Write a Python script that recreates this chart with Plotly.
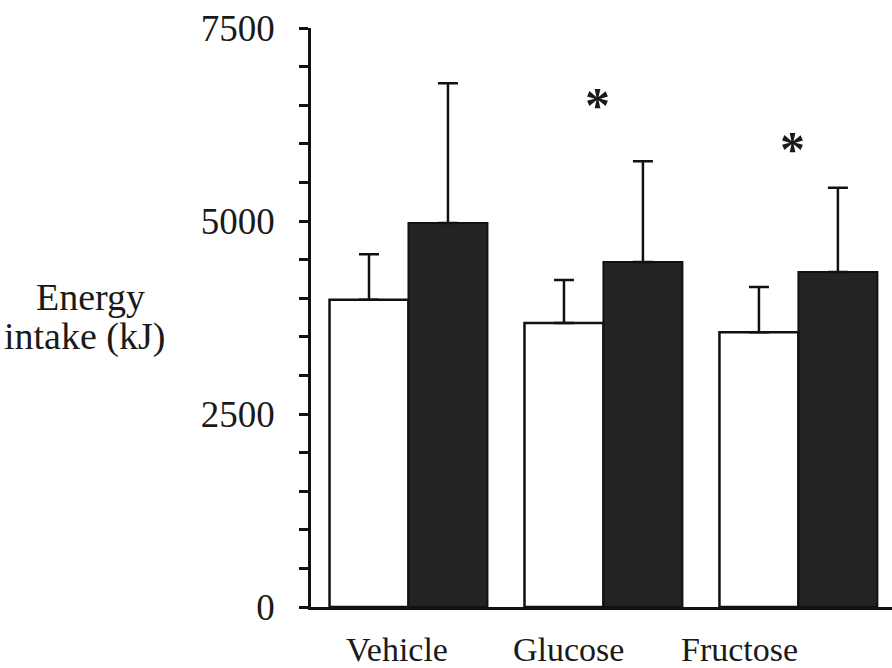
import plotly.graph_objects as go

# Energy intake per treatment (kJ): mean and upper SEM
categories = ["Vehicle", "Glucose", "Fructose"]
open_means = [3980, 3680, 3560]
open_sem = [590, 555, 585]
filled_means = [4975, 4470, 4340]
filled_sem = [1810, 1305, 1090]
significant = [False, True, True]

y_tick_vals = [0, 2500, 5000, 7500]
y_tick_text = ["0", "2500", "5000", "7500"]

FONT = "Liberation Serif"
x_pos = list(range(len(categories)))

fig = go.Figure()
fig.add_trace(go.Bar(
    x=x_pos, y=open_means,
    marker=dict(color="white", line=dict(color="#111111", width=2.5)),
    error_y=dict(type="data", symmetric=False, array=open_sem,
                 arrayminus=[0] * len(open_sem), color="#111111",
                 thickness=2.5, width=10),
    showlegend=False,
))
fig.add_trace(go.Bar(
    x=x_pos, y=filled_means,
    marker=dict(color="#232323", line=dict(color="#111111", width=2)),
    error_y=dict(type="data", symmetric=False, array=filled_sem,
                 arrayminus=[0] * len(filled_sem), color="#111111",
                 thickness=2.5, width=10),
    showlegend=False,
))

annotations = []
# category labels sit on a slightly tighter pitch than the bar groups
label_start, label_pitch = -0.06, 0.88
for i, name in enumerate(categories):
    annotations.append(dict(
        x=label_start + label_pitch * i, y=0, xref="x", yref="y",
        text=name, showarrow=False, xanchor="center", yanchor="top",
        yshift=-22, font=dict(family=FONT, size=34, color="#1a1a1a"),
    ))

# significance markers above the treatment groups
star_y = {1: 6630, 2: 6060}
for i, sig in enumerate(significant):
    if sig:
        annotations.append(dict(
            x=i - 0.03, y=star_y[i], xref="x", yref="y", text="<b>*</b>",
            showarrow=False, xanchor="center", yanchor="middle", yshift=-10,
            font=dict(family=FONT, size=50, color="#1a1a1a"),
        ))

# y-axis title, two stacked lines to the left of the axis
for text, x, y in (("Energy", -0.38, 0.535), ("intake (kJ)", -0.389, 0.468)):
    annotations.append(dict(
        x=x, y=y, xref="paper", yref="paper", text=text,
        showarrow=False, xanchor="center", yanchor="middle",
        font=dict(family=FONT, size=38, color="#1a1a1a"),
    ))

fig.update_layout(
    width=892, height=668,
    margin=dict(l=311, r=0, t=28, b=61, autoexpand=False),
    paper_bgcolor="white", plot_bgcolor="white",
    barmode="group", bargap=0.19, bargroupgap=0,
    annotations=annotations,
    xaxis=dict(
        range=[-0.5, 2.48], showgrid=False, zeroline=False,
        showline=True, linecolor="#111111", linewidth=2.5,
        ticks="", showticklabels=False, fixedrange=True,
    ),
    yaxis=dict(
        range=[0, 7500], showgrid=False, zeroline=False,
        showline=True, linecolor="#111111", linewidth=2.5,
        tickvals=y_tick_vals, ticktext=y_tick_text,
        ticks="outside", ticklen=9, tickwidth=2.5, tickcolor="#111111",
        ticklabelstandoff=17,
        tickfont=dict(family=FONT, size=37, color="#1a1a1a"),
        minor=dict(dtick=500, ticks="outside", ticklen=9, tickwidth=2.5,
                   tickcolor="#111111", showgrid=False),
        automargin=False,
    ),
)

fig.write_html("out.html")
